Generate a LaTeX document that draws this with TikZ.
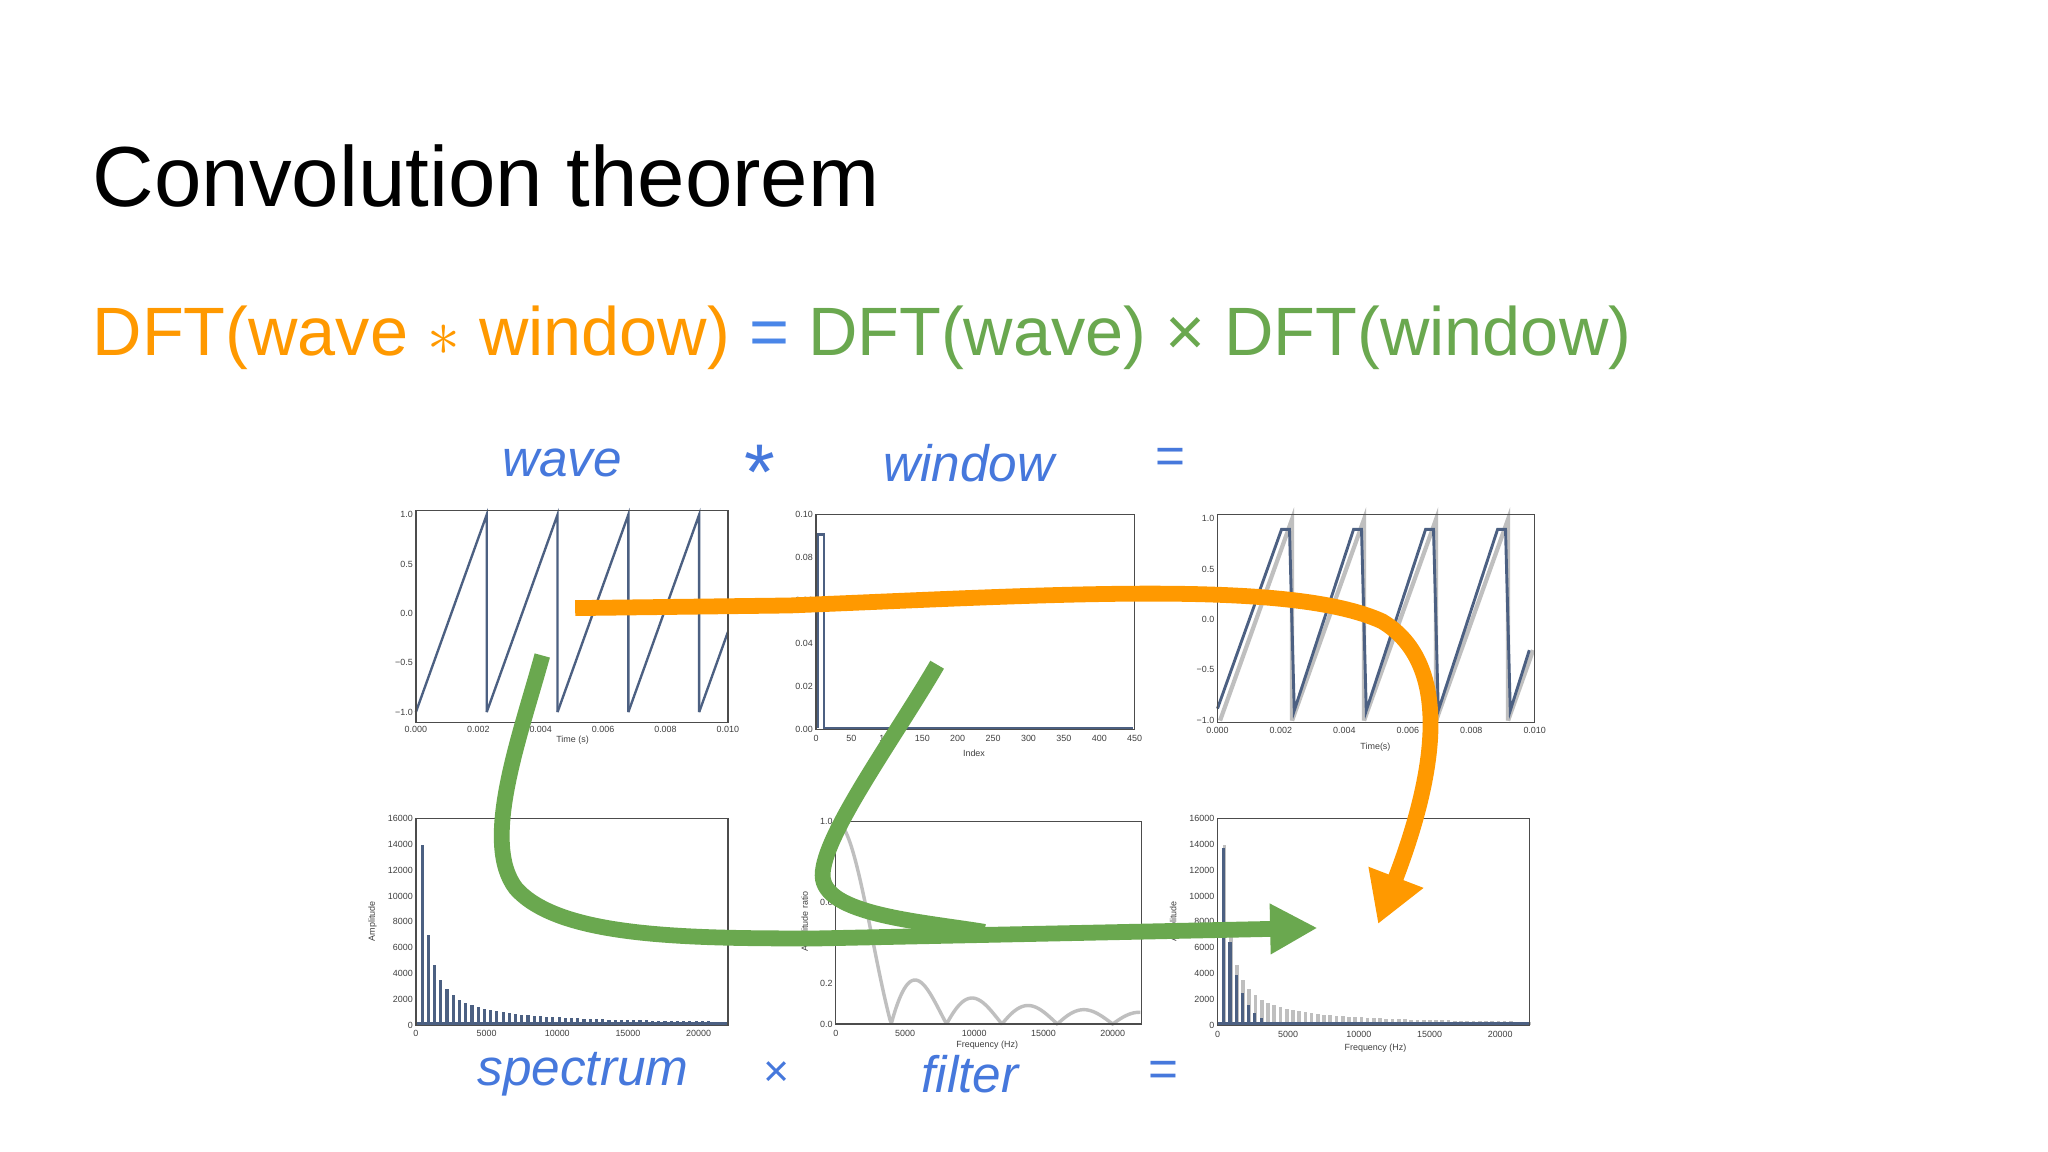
\documentclass[tikz,border=0pt]{standalone}
\usepackage{fontspec}
\setmainfont{Liberation Sans}
\usetikzlibrary{arrows.meta}
\definecolor{orng}{RGB}{255,153,0}
\definecolor{grn}{RGB}{106,168,79}
\definecolor{blu}{RGB}{74,134,232}
\definecolor{lbl}{RGB}{70,120,220}
\definecolor{sigc}{RGB}{76,96,130}
\begin{document}
\begin{tikzpicture}[x=0.5pt,y=-0.5pt,
  tk/.style={font=\fontsize{3.4}{4}\selectfont,text=black!75,inner sep=1pt},
  axbox/.style={draw=black!70,line width=0.5pt},
  sig/.style={draw=sigc,line width=0.9pt},
  gsig/.style={draw=black!25,line width=1.6pt},
  lab/.style={font=\fontsize{19.5}{22}\selectfont\itshape,text=lbl,inner sep=0},
  fatarrow/.style={line width=6pt}]
\useasboundingbox[fill=white] (0,0) rectangle (1556,875);
% title
\node[anchor=base west,inner sep=0,font=\fontsize{32.4}{38}\selectfont] (title) at (70,157) {Convolution theorem};
\node[anchor=base west,inner sep=0,font=\fontsize{26}{30}\selectfont] (eq) at (70,270)
 {\textcolor{orng}{DFT(wave $\ast$ window)} \textcolor{blu}{=} \textcolor{grn}{DFT(wave) × DFT(window)}};
% row labels
\node[lab] (l1) at (427,352) {wave};
\node[lab,font=\fontsize{30}{30}\selectfont,anchor=north] (l2) at (577,338) {*};
\node[lab] (l3) at (736,352) {window};
\node[lab,font=\fontsize{19.5}{22}\selectfont] (l4) at (889,350) {=};
\node[lab] (l5) at (443,816) {spectrum};
\node[lab,font=\fontsize{17}{20}\selectfont] (l6) at (590,816) {×};
\node[lab] (l7) at (737,816) {filter};
\node[lab,font=\fontsize{19.5}{22}\selectfont] (l8) at (884,816) {=};
% ---------- P1 wave
\begin{scope}[shift={(316,466)},xscale=23.7,yscale=-75]
 \foreach \k in {0,...,3}{\draw[sig] ({2.27*\k},-1) -- ({2.27*(\k+1)},1) -- ({2.27*(\k+1)},-1);}
 \draw[sig] (9.08,-1) -- (10,-0.19);
\end{scope}
\draw[axbox] (316,388) rectangle (553,549);
\foreach \t [count=\i from 0] in {1.0,0.5,0.0,−0.5,−1.0} \node[tk,anchor=east] at (316,391+37.5*\i) {\t};
\foreach \t [count=\i from 0] in {0.000,0.002,0.004,0.006,0.008,0.010} \node[tk,anchor=north] at (316+47.4*\i,549) {\t};
\node[tk] at (435,562) {Time (s)};
% ---------- P2 window
\draw[sig] (621,553) -- (621,406) -- (626,406) -- (626,553) -- (861,553);
\draw[axbox] (620,391) rectangle (862,554);
\foreach \t [count=\i from 0] in {0.10,0.08,0.06,0.04,0.02,0.00} \node[tk,anchor=east] at (620,391+32.6*\i) {\t};
\foreach \t [count=\i from 0] in {0,50,100,150,200,250,300,350,400,450} \node[tk,anchor=north] at (620+26.9*\i,556) {\t};
\node[tk] at (740,572) {Index};
% ---------- P3 convolved
\begin{scope}[shift={(925,471)},xscale=24.1,yscale=-76.5]
 \foreach \k in {0,...,3}{\draw[gsig] ({2.27*\k+0.08},-1) -- ({2.27*(\k+1)+0.08},1) -- ({2.27*(\k+1)+0.08},-1);}
 \draw[gsig] (9.16,-1) -- (9.95,-0.3);
 \draw[sig,line width=1.1pt] (0,-0.88) \foreach \k in {0,...,3}{ -- ({2.27*(\k+1)-0.25},0.9) -- ({2.27*(\k+1)},0.9) -- ({2.27*(\k+1)+0.15},-0.9)} -- (9.83,-0.3);
\end{scope}
\draw[axbox] (925,391) rectangle (1166,549);
\foreach \t [count=\i from 0] in {1.0,0.5,0.0,−0.5,−1.0} \node[tk,anchor=east] at (925,394+38.25*\i) {\t};
\foreach \t [count=\i from 0] in {0.000,0.002,0.004,0.006,0.008,0.010} \node[tk,anchor=north] at (925+48.2*\i,550) {\t};
\node[tk] at (1045,568) {Time(s)};
% ---------- P4 spectrum
\begin{scope}[shift={(316,779)},xscale=10.75,yscale=-9.81]
 \foreach \k in {1,...,50}{\draw[sig,line width=1.2pt] ({0.44*\k},0) -- ({0.44*\k},{14/\k});}
\end{scope}
\draw[sig,line width=1.2pt] (316,778) -- (553,778);
\draw[axbox] (316,622) rectangle (553,779);
\foreach \t [count=\i from 0] in {16000,14000,12000,10000,8000,6000,4000,2000,0} \node[tk,anchor=east] at (316,622+19.6*\i) {\t};
\foreach \t [count=\i from 0] in {0,5000,10000,15000,20000} \node[tk,anchor=north] at (316+53.7*\i,780) {\t};
\node[tk,rotate=90] at (283,700) {Amplitude};
% ---------- P5 filter
\begin{scope}[shift={(635,778)},xscale=10.52,yscale=-154]
 \draw[gsig,line width=1.3pt] (0,1) plot[domain=0.02:22,samples=220,smooth] (\x,{abs(sin(45*\x))/(pi*\x/4)});
\end{scope}
\draw[axbox] (635,624) rectangle (867,778);
\foreach \t [count=\i from 0] in {1.0,0.8,0.6,0.4,0.2,0.0} \node[tk,anchor=east] at (635,624+30.8*\i) {\t};
\foreach \t [count=\i from 0] in {0,5000,10000,15000,20000} \node[tk,anchor=north] at (635+52.6*\i,780) {\t};
\node[tk] at (750,794) {Frequency (Hz)};
\node[tk,rotate=90] at (612,700) {Amplitude ratio};
% ---------- P6 product
\begin{scope}[shift={(925,779)},xscale=10.75,yscale=-9.81]
 \foreach \k in {1,...,50}{\draw[gsig,line width=1.4pt] ({0.44*\k+0.05},0) -- ({0.44*\k+0.05},{14/\k});}
 \foreach \k in {1,...,50}{\draw[sig,line width=1.2pt] ({0.44*\k},0) -- ({0.44*\k},{14/\k*abs(sin(45*0.44*\k))/(pi*0.44*\k/4)});}
\end{scope}
\draw[sig,line width=1.2pt] (925,778) -- (1162,778);
\draw[axbox] (925,622) rectangle (1162,779);
\foreach \t [count=\i from 0] in {16000,14000,12000,10000,8000,6000,4000,2000,0} \node[tk,anchor=east] at (925,622+19.6*\i) {\t};
\foreach \t [count=\i from 0] in {0,5000,10000,15000,20000} \node[tk,anchor=north] at (925+53.7*\i,781) {\t};
\node[tk] at (1045,796) {Frequency (Hz)};
\node[tk,rotate=90] at (892,700) {Amplitude};
% ---------- arrows
\coordinate (oS) at (437,462);
\coordinate (oE) at (1047,702);
\coordinate (gS) at (412,498);
\coordinate (gE) at (1001,705);
\coordinate (g2S) at (712,505);
\coordinate (g2E) at (748,708);
\draw[fatarrow,draw=grn] (g2S) .. controls (680,560) and (625,635) .. (625,665) .. controls (625,695) and (700,700) .. (g2E);
\draw[fatarrow,draw=grn,-{Triangle[length=18pt,width=18pt]}] (gS) .. controls (395,560) and (365,640) .. (392,675) .. controls (425,712) and (520,713) .. (620,713) -- (gE);
\draw[fatarrow,draw=orng,-{Triangle[length=19pt,width=21pt]}] (oS) -- (600,460) .. controls (800,452) and (980,440) .. (1050,472) .. controls (1105,505) and (1090,590) .. (oE);
\end{tikzpicture}
\end{document}
